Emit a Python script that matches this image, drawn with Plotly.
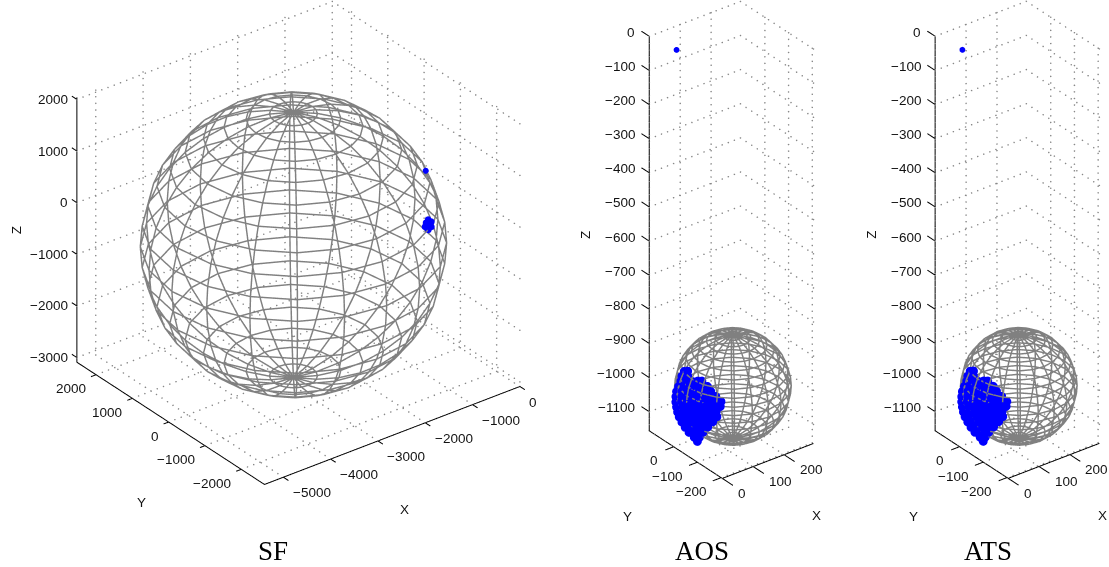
import numpy as np
import plotly.graph_objects as go

W, H = 1109, 567

# ---- data ----
panel_titles = ["SF", "AOS", "ATS"]

sf_xticks = [0, -1000, -2000, -3000, -4000, -5000]
sf_yticks = [2000, 1000, 0, -1000, -2000]
sf_zticks = [2000, 1000, 0, -1000, -2000, -3000]
sf_xlim = [-5400, 0]
sf_ylim = [-2640, 2530]
sf_zlim = [-3090, 2040]
sf_sphere_centre = [-2787, -33, -560]
sf_sphere_radius = 2570
sf_outlier_x = [-839]
sf_outlier_y = [-1138]
sf_outlier_z = [697]
sf_x = [-1505, -1479, -1531, -1450, -1522, -1555, -1475]
sf_y = [-2073, -2040, -2106, -2084, -2040, -2055, -2117]
sf_z = [314, 387, 241, 358, 343, 285, 285]

zoom_xticks = [0, 100, 200]
zoom_yticks = [0, -100, -200]
zoom_zticks = [0, -100, -200, -300, -400, -500, -600, -700, -800, -900, -1000, -1100]
zoom_xlim = [0, 295]
zoom_ylim = [-205, 103]
zoom_zlim = [-1156, 0]
zoom_sphere_centre = [147, -58, -1004]
zoom_sphere_radius = 150

outlier_x = [55]
outlier_y = [60]
outlier_z = [-39]
cloud_x = [
    24, 24, 18, 18, 13, 12, 15, 20, 24, 11, 7, 9, 13, 19, 27, 12, 4, 5, 8, 14,
    20, 28, 16, 3, 2, 5, 10, 17, 24, 33, 22, 2, 1, 3, 8, 14, 22, 31, 39, 12,
    -4, -7, -5, 0, 6, 14, 23, 29, 10, -2, -6, -4, 1, 7, 15, 21, 10, 3, -3, -1,
    3, 9, 17, 22, 11, 8, 1, 3, 8, 14, 17, 14, 19, 8, 9, 14, 18, 29, 18, 17,
    25, 35, 28]
cloud_y = [
    -13, -27, -11, -35, -13, -38, -58, -75, -87, -6, -35, -56, -75, -91, -106, 4, -30, -54, -73, -90,
    -106, -119, 12, -30, -55, -75, -92, -108, -122, -134, 20, -30, -56, -77, -95, -111, -125, -137, -148, 4,
    -42, -69, -90, -108, -124, -138, -151, -158, -3, -43, -72, -93, -111, -127, -141, -151, -10, -44, -75, -97,
    -115, -131, -145, -153, -20, -48, -81, -103, -121, -136, -142, -30, -48, -86, -108, -125, -41, -49, -84, -100,
    -54, -62, -63]
cloud_z = [
    -937, -930, -950, -939, -962, -951, -943, -936, -932, -980, -966, -956, -949, -944, -940, -1000, -981, -971, -963, -957,
    -953, -949, -1020, -996, -984, -976, -970, -965, -962, -959, -1041, -1011, -998, -989, -983, -978, -974, -972, -970, -1045,
    -1018, -1005, -996, -989, -984, -980, -978, -976, -1056, -1033, -1019, -1009, -1003, -998, -994, -992, -1067, -1049, -1033, -1023,
    -1017, -1012, -1008, -1006, -1078, -1065, -1047, -1037, -1031, -1026, -1024, -1090, -1083, -1062, -1052, -1046, -1101, -1101, -1081, -1074,
    -1112, -1112, -1121]

# ---- view: MATLAB az/el as plotly camera (orthographic) ----
RIGHT = np.array([.793, -.609, 0])
UP = np.array([.3045, .3965, .866])
EYE = np.array([-.527, -.687, .5])
FONT = "Liberation Sans"
GRAY = "#808080"


def fmt(v):
    return str(v).replace("-", "\u2212")


def panel(scene_id, xr, yr, zr, xt, yt, zt, centre, rad, sets, ticklen, domain, ranges, ar, zstretch, shifts, k):
    traces = []
    dots = []

    def dotted(a, b):
        a = np.array(a, float)
        b = np.array(b, float)
        v = b - a
        n = max(int(k * np.hypot(v @ RIGHT, v @ UP) / 6.5), 1)
        for t in np.linspace(0, 1, n + 1):
            dots.append(a + t * v)

    for v in xt:
        dotted((v, yr[1], zr[0]), (v, yr[1], zr[1]))
        dotted((v, yr[0], zr[0]), (v, yr[1], zr[0]))
    for v in yt:
        dotted((xr[1], v, zr[0]), (xr[1], v, zr[1]))
        dotted((xr[0], v, zr[0]), (xr[1], v, zr[0]))
    for v in zt:
        dotted((xr[0], yr[1], v), (xr[1], yr[1], v))
        dotted((xr[1], yr[0], v), (xr[1], yr[1], v))
    dots = np.array(dots)
    traces.append(go.Scatter3d(x=dots[:, 0], y=dots[:, 1], z=dots[:, 2], mode="markers",
                               marker=dict(color="#888888", size=0.9, line=dict(width=0)), hoverinfo="skip", scene=scene_id))

    ax = [[], [], []]

    def solid(a, b):
        for i in range(3):
            ax[i].extend([a[i], b[i], None])

    solid((xr[0], yr[1], zr[0]), (xr[0], yr[1], zr[1]))
    solid((xr[0], yr[0], zr[0]), (xr[0], yr[1], zr[0]))
    solid((xr[0], yr[0], zr[0]), (xr[1], yr[0], zr[0]))
    for v in xt:
        solid((v, yr[0], zr[0]), (v, yr[0] - ticklen[0], zr[0]))
    for v in yt:
        solid((xr[0], v, zr[0]), (xr[0] - ticklen[1], v, zr[0]))
    for v in zt:
        solid((xr[0], yr[1], v), (xr[0], yr[1] + ticklen[2], v))
    traces.append(go.Scatter3d(x=ax[0], y=ax[1], z=ax[2], mode="lines", line=dict(color="black", width=2),
                               hoverinfo="skip", scene=scene_id))

    n = 20
    th = np.linspace(-np.pi, np.pi, n + 1)
    ph = np.linspace(-np.pi / 2, np.pi / 2, n + 1)
    sx, sy, sz = [], [], []
    for t in th[:-1]:
        sx += list(centre[0] + rad * np.cos(ph) * np.cos(t)) + [None]
        sy += list(centre[1] + rad * np.cos(ph) * np.sin(t)) + [None]
        sz += list(centre[2] + rad * np.sin(ph)) + [None]
    for p in ph[1:-1]:
        sx += list(centre[0] + rad * np.cos(p) * np.cos(th)) + [None]
        sy += list(centre[1] + rad * np.cos(p) * np.sin(th)) + [None]
        sz += list(centre[2] + rad * np.sin(p) * np.ones(n + 1)) + [None]
    traces.append(go.Scatter3d(x=sx, y=sy, z=sz, mode="lines", line=dict(color=GRAY, width=2.9),
                               hoverinfo="skip", scene=scene_id))
    for px, py, pz, size in sets:
        traces.append(go.Scatter3d(x=px, y=py, z=pz, mode="markers",
                                   marker=dict(color="#0000ff", size=size, line=dict(width=0)), hoverinfo="skip", scene=scene_id))

    ann = []

    def lab(x, y, z, t, xa, xs, ys, angle=0):
        ann.append(dict(x=x, y=y, z=z, text=t, showarrow=False, xanchor=xa, yanchor="middle", xshift=xs, yshift=ys,
                        textangle=angle, font=dict(family=FONT, size=13.5, color="#111111")))

    for v in xt:
        lab(v, yr[0], zr[0], fmt(v), "left", *shifts["x"])
    for v in yt:
        lab(xr[0], v, zr[0], fmt(v), "right", *shifts["y"])
    for v in zt:
        lab(xr[0], yr[1], v, fmt(v), "right", *shifts["z"])
    lab((xr[0] + xr[1]) / 2, yr[0], zr[0], "X", "center", *shifts["X"])
    lab(xr[0], (yr[0] + yr[1]) / 2, zr[0], "Y", "center", *shifts["Y"])
    lab(xr[0], yr[1], (zr[0] + zr[1]) / 2, "Z", "center", *shifts["Z"], angle=-90)

    def axis(r):
        return dict(visible=False, range=r, autorange=False)

    scene = dict(domain=dict(x=[domain[0] / W, domain[1] / W], y=[1 - domain[3] / H, 1 - domain[2] / H]),
                 xaxis=axis(ranges[0]), yaxis=axis(ranges[1]), zaxis=axis(ranges[2]),
                 aspectmode="manual",
                 aspectratio=dict(x=(ranges[0][1] - ranges[0][0]) * ar, y=(ranges[1][1] - ranges[1][0]) * ar,
                                  z=(ranges[2][1] - ranges[2][0]) * ar * zstretch),
                 camera=dict(projection=dict(type="orthographic"), eye=dict(x=EYE[0] * 2, y=EYE[1] * 2, z=EYE[2] * 2),
                             center=dict(x=0, y=0, z=0), up=dict(x=0, y=0, z=1)),
                 bgcolor="rgba(0,0,0,0)", annotations=ann)
    return traces, scene


sf_shifts = dict(x=(7.5, -15.5), y=(-8, -14), z=(-7, 0), X=(12, -74), Y=(-29, -79), Z=(-60.5, 0))
zoom_shifts = dict(x=(13.5, -15), y=(-13.5, -14), z=(-12, 4), X=(49, -55), Y=(-58, -61.5), Z=(-64, -1))

t1, sc1 = panel("scene", sf_xlim, sf_ylim, sf_zlim, sf_xticks, sf_yticks, sf_zticks, sf_sphere_centre, sf_sphere_radius,
                [(sf_x, sf_y, sf_z, 4), (sf_outlier_x, sf_outlier_y, sf_outlier_z, 3.5)], (138, 106, 138), (0, 600, 0, 486),
                ((-5900, 500), (-3140, 2940), (-3590, 2540)), 1 / 4076, 1, sf_shifts, .0595)
zoom_sets = [(cloud_x, cloud_y, cloud_z, 5.2), (outlier_x, outlier_y, outlier_z, 3.4)]
t2, sc2 = panel("scene2", zoom_xlim, zoom_ylim, zoom_zlim, zoom_xticks, zoom_yticks, zoom_zticks, zoom_sphere_centre,
                zoom_sphere_radius, zoom_sets, (45, 27, 33), (637, 823, 0, 486),
                ((-56, 339), (-250, 144), (-1212, 44)), 1 / 624, 1.012, zoom_shifts, .392)
t3, sc3 = panel("scene3", zoom_xlim, zoom_ylim, zoom_zlim, zoom_xticks, zoom_yticks, zoom_zticks, zoom_sphere_centre,
                zoom_sphere_radius, zoom_sets, (45, 27, 33), (921, 1109, 0, 486),
                ((-58, 337), (-249, 145), (-1212, 44)), 1 / 624, 1.012, zoom_shifts, .392)

fig = go.Figure()
for t in t1 + t2 + t3:
    fig.add_trace(t)

annotations = [dict(x=x / W, y=1 - 551 / H, xref="paper", yref="paper", text=t, showarrow=False, xanchor="center",
                    yanchor="middle", font=dict(family="Liberation Serif", size=27, color="black"))
               for x, t in zip((273, 702, 988), panel_titles)]
fig.update_layout(width=W, height=H, margin=dict(l=0, r=0, t=0, b=0), paper_bgcolor="white", showlegend=False,
                  annotations=annotations, scene=sc1, scene2=sc2, scene3=sc3)
fig.write_html("out.html", config=dict(displayModeBar=False), post_script="document.body.style.margin='0';")
